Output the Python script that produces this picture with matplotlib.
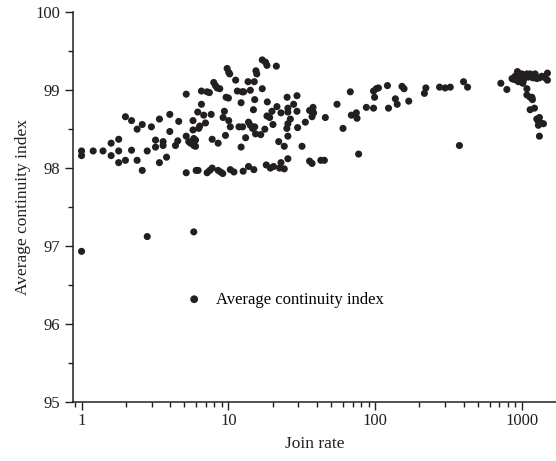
import matplotlib
matplotlib.use("Agg")
import matplotlib.pyplot as plt
from matplotlib.ticker import LogLocator, MultipleLocator, FixedFormatter, FixedLocator

plt.rcParams["font.family"] = ["Liberation Serif", "DejaVu Serif"]

# ── data (join rate, average continuity index) ──
join_rate = [
    1.0, 1.0, 1.0, 1.20, 1.40, 1.59, 1.59, 1.79, 1.79, 1.79,
    1.99, 1.99, 2.19, 2.19, 2.39, 2.39, 2.59, 2.59, 2.80, 2.80,
    2.99, 3.19, 3.19, 3.39, 3.39, 3.59, 3.59, 3.79, 3.99, 3.99,
    4.36, 4.52, 4.59, 5.16, 5.16, 5.16, 5.37, 5.51, 5.81, 5.81,
    5.97, 5.97, 5.74, 5.74, 6.03, 6.22, 5.81, 6.18, 6.28, 6.38,
    6.55, 6.55, 6.79, 6.98, 7.16, 7.46, 7.16, 7.42, 7.63, 7.75,
    7.75, 7.94, 8.16, 8.38, 8.51, 8.51, 8.83, 9.15, 8.73, 9.20,
    9.39, 9.55, 9.64, 10.0, 9.80, 10.05, 10.2, 10.3, 10.3, 10.9,
    11.2, 11.5, 11.8, 12.5, 12.2, 12.2, 12.6, 12.4, 12.7, 13.1,
    13.6, 13.7, 14.1, 13.7, 14.1, 14.6, 15.1, 14.9, 14.8, 15.0,
    15.1, 15.4, 15.6, 15.3, 16.6, 17.0, 17.9, 18.3, 17.0, 17.7,
    18.1, 18.4, 18.3, 19.1, 19.3, 20.3, 20.1, 19.8, 21.2, 21.4,
    22.0, 22.3, 22.8, 22.8, 24.0, 24.0, 25.1, 25.4, 25.4, 26.4,
    25.4, 25.0, 25.4, 25.4, 27.8, 29.3, 29.3, 29.6, 31.7, 33.4,
    35.7, 37.7, 38.0, 37.1, 35.7, 37.1, 42.6, 45.0, 45.7, 54.9,
    60.3, 67.6, 68.7, 74.3, 75.1, 77.0, 86.9, 97.3, 101.6, 105,
    98.9, 97.3, 121, 123, 137, 141, 152, 157, 169, 216,
    221, 274, 299, 324, 374, 399, 425, 716, 787, 873,
    896, 929, 944, 969, 995, 1011, 1032, 1077, 1104, 1133,
    1182, 1225, 1258, 1311, 1362, 1433, 1486, 1486, 1077, 1077,
    1133, 1175, 1165, 1133, 1213, 1258, 1311, 1290, 1396, 1311,
    853, 914, 961, 1022, 10.05, 1290, 1340,
]
continuity = [
    98.22, 98.16, 96.93, 98.22, 98.22, 98.32, 98.16, 98.37, 98.22, 98.07,
    98.66, 98.10, 98.61, 98.23, 98.50, 98.10, 98.56, 97.97, 98.22, 97.12,
    98.53, 98.36, 98.27, 98.63, 98.07, 98.34, 98.29, 98.14, 98.69, 98.47,
    98.29, 98.35, 98.60, 98.95, 98.41, 97.94, 98.34, 98.32, 98.38, 98.29,
    98.28, 98.36, 98.61, 98.49, 97.97, 97.97, 97.18, 98.72, 98.51, 98.54,
    98.99, 98.82, 98.68, 98.58, 97.94, 97.97, 98.98, 98.97, 98.69, 98.37,
    98.00, 99.10, 99.06, 99.03, 98.32, 97.97, 97.95, 97.93, 99.02, 98.65,
    98.73, 98.42, 98.91, 98.90, 99.28, 99.23, 99.21, 98.53, 97.98, 97.95,
    99.13, 98.99, 98.53, 98.53, 98.84, 98.27, 97.96, 98.98, 98.98, 98.39,
    99.11, 98.59, 98.55, 98.02, 99.00, 98.51, 98.53, 97.98, 98.75, 99.11,
    98.88, 99.25, 99.21, 98.44, 98.43, 99.39, 99.36, 99.32, 99.02, 98.50,
    98.04, 98.85, 98.67, 98.65, 98.00, 98.02, 98.56, 98.73, 99.31, 98.79,
    98.34, 98.00, 98.07, 98.71, 98.28, 97.99, 98.91, 98.77, 98.72, 98.63,
    98.57, 98.51, 98.41, 98.12, 98.82, 98.93, 98.73, 98.52, 98.28, 98.59,
    98.74, 98.78, 98.71, 98.66, 98.09, 98.06, 98.10, 98.10, 98.65, 98.82,
    98.51, 98.98, 98.68, 98.71, 98.64, 98.18, 98.78, 98.99, 99.02, 99.03,
    98.91, 98.77, 99.06, 98.77, 98.89, 98.82, 99.05, 99.02, 98.86, 98.96,
    99.03, 99.04, 99.03, 99.04, 98.29, 99.11, 99.04, 99.09, 99.01, 99.14,
    99.18, 99.24, 99.11, 99.15, 99.21, 99.09, 99.17, 99.21, 99.17, 99.21,
    99.16, 99.21, 99.15, 99.16, 99.18, 99.16, 99.22, 99.13, 99.02, 98.94,
    98.91, 98.88, 98.91, 98.75, 98.77, 98.63, 98.65, 98.55, 98.57, 98.41,
    99.15, 99.13, 99.19, 99.13, 98.61, 98.60, 98.58,
]

x_tick_vals = [1, 10, 100, 1000]
x_tick_labels = ["1", "10", "100", "1000"]

fig = plt.figure(figsize=(5.56, 4.61), dpi=100)
ax = fig.add_axes([0.132, 0.129, 0.868, 0.844])

ax.scatter(join_rate, continuity, s=26, color="#231f20", edgecolors="none",
           label="Average continuity index", zorder=3)

ax.set_xscale("log")
ax.set_xlim(0.88, 1700)
ax.set_ylim(95, 100)

ax.xaxis.set_major_locator(FixedLocator(x_tick_vals))
ax.xaxis.set_major_formatter(FixedFormatter(x_tick_labels))
ax.xaxis.set_minor_locator(LogLocator(base=10, subs=range(2, 10)))
ax.yaxis.set_major_locator(MultipleLocator(1))
ax.yaxis.set_minor_locator(MultipleLocator(0.5))

for side in ["top", "right"]:
    ax.spines[side].set_visible(False)
for side in ["left", "bottom"]:
    ax.spines[side].set_linewidth(1.1)
    ax.spines[side].set_color("#231f20")

ax.tick_params(which="major", direction="out", length=6, width=1.0,
               labelsize=12, colors="#231f20")
ax.tick_params(axis="x", which="major", pad=2)
ax.tick_params(which="minor", direction="out", length=3.5, width=1.0,
               colors="#231f20")

ax.set_xlabel("Join rate", fontsize=12.5, labelpad=5, color="#231f20")
ax.set_ylabel("Average continuity index", fontsize=12.5, labelpad=3, color="#231f20")

ax.legend(loc="center left", bbox_to_anchor=(0.233, 0.262), frameon=False,
          fontsize=12, handlelength=1.0, handletextpad=0.8, borderpad=0,
          borderaxespad=0, markerscale=1.1)

fig.savefig("out.png", dpi=100)
